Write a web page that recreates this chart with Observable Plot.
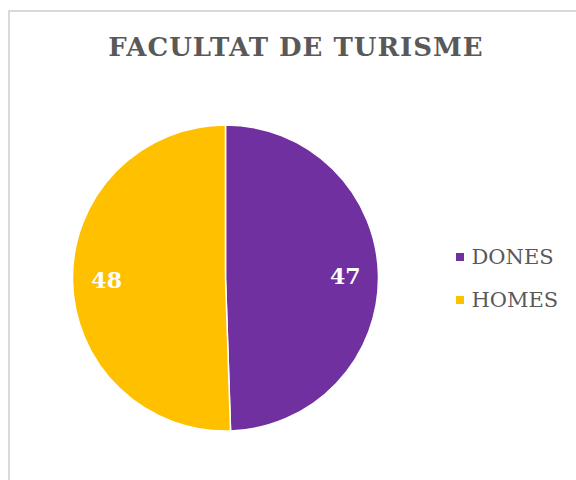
<!DOCTYPE html>
<html>
<head>
<meta charset="utf-8">
<script src="https://cdn.jsdelivr.net/npm/d3@7"></script>
<script src="https://cdn.jsdelivr.net/npm/@observablehq/plot@0.6"></script>
<style>
html, body { margin: 0; padding: 0; background: #fff; }
#page { position: relative; width: 576px; height: 480px; overflow: hidden; background: #fff; }
#frame { position: absolute; left: 8px; top: 10px; width: 700px; height: 600px; border: 2px solid #d9d9d9; box-sizing: border-box; }
#title { position: absolute; left: 0.5px; top: 34px; width: 591px; text-align: center; margin: 0;
  font-family: "DejaVu Serif", serif; font-weight: bold; font-size: 26px; line-height: 26px; letter-spacing: 1px; color: #595959; white-space: nowrap; }
#chart { position: absolute; left: 0; top: 0; }
#legend { position: absolute; left: 455.5px; top: 235.5px; }
#legend > div { margin: 0 !important; font-family: "DejaVu Serif", serif !important; font-size: 21px !important; color: #595959 !important; }
#legend .lg-swatch { height: 43px; padding: 0 !important; margin: 0 !important; display: flex; align-items: center; }
#legend .lg-swatch svg { margin-right: 8px !important; }
</style>
</head>
<body>
<div id="page">
  <div id="frame"></div>
  <div id="title"></div>
  <div id="chart"></div>
  <div id="legend"></div>
</div>
<script>
const titleText = "FACULTAT DE TURISME";
const categories = ["DONES", "HOMES"];
const values = [47, 48];
const colors = ["#7030A0", "#FFC000"];

document.getElementById("title").textContent = titleText;

const slices = categories.map((label, i) => ({label, value: values[i]}));
const arcs = d3.pie().value(d => d.value).sort(null)(slices);
const labelRadius = 0.78;
const labels = arcs.map(a => {
  const m = (a.startAngle + a.endAngle) / 2;
  return {text: String(a.data.value), x: labelRadius * Math.sin(m), y: labelRadius * Math.cos(m)};
});

function pieMark(index, scales) {
  const cx = scales.x(0), cy = scales.y(0);
  const r = scales.x(1) - scales.x(0);
  const arc = d3.arc().innerRadius(0).outerRadius(r);
  const g = d3.create("svg:g").attr("transform", `translate(${cx},${cy})`);
  g.selectAll("path").data(arcs).join("path")
    .attr("d", arc)
    .attr("fill", d => scales.color(d.data.label))
    .attr("stroke", "#fff")
    .attr("stroke-width", 1.5)
    .attr("stroke-linejoin", "round");
  return g.node();
}

const colorScale = {type: "ordinal", domain: categories, range: colors};

const chart = Plot.plot({
  width: 576,
  height: 480,
  marginLeft: 72.5,
  marginRight: 197.5,
  marginTop: 125,
  marginBottom: 49,
  x: {domain: [-1, 1], axis: null},
  y: {domain: [-1, 1], axis: null},
  color: colorScale,
  style: {background: "transparent", overflow: "visible"},
  marks: [
    Plot.dot(slices, {x: () => 0, y: () => 0, fill: "label", r: 0}),
    pieMark,
    Plot.text(labels, {x: "x", y: "y", text: "text", fill: "white", fontWeight: "bold",
      fontSize: 22, fontFamily: "DejaVu Serif"})
  ]
});
document.getElementById("chart").appendChild(chart);

const legend = Plot.legend({
  color: colorScale,
  legend: "swatches",
  columns: 1,
  swatchSize: 8,
  className: "lg"
});
document.getElementById("legend").appendChild(legend);
</script>
</body>
</html>
